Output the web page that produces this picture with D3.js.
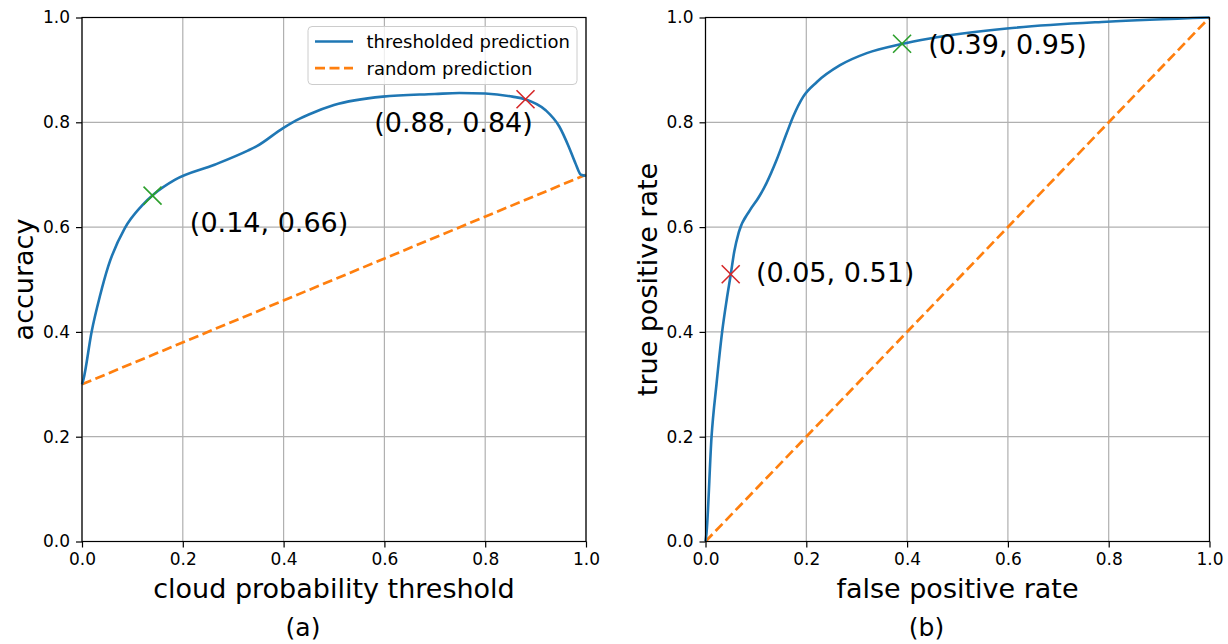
<!DOCTYPE html>
<html>
<head>
<meta charset="utf-8">
<script src="https://cdn.jsdelivr.net/npm/d3@7"></script>
<style>
  body { margin: 0; background: #fff; }
  svg { font-family: "DejaVu Sans", sans-serif; }
</style>
</head>
<body>
<svg id="chart" width="1228" height="644"></svg>
<script>
// panel (a): accuracy vs threshold
var threshold = [0, 0.003, 0.019, 0.036, 0.052, 0.085, 0.118, 0.143, 0.184, 0.263, 0.329, 0.346, 0.399, 0.432, 0.45, 0.50, 0.597, 0.70, 0.749, 0.80, 0.854, 0.879, 0.92, 0.947, 0.966, 0.979, 0.99, 1.0];
var accuracy  = [0.30, 0.31, 0.40, 0.47, 0.525, 0.598, 0.640, 0.663, 0.690, 0.719, 0.746, 0.754, 0.789, 0.807, 0.815, 0.833, 0.849, 0.854, 0.856, 0.855, 0.849, 0.844, 0.823, 0.792, 0.753, 0.722, 0.70, 0.698];
var randomAccX = [0, 1];
var randomAccY = [0.30, 0.70];

// panel (b): ROC
var fpr = [0, 0.002, 0.012, 0.022, 0.033, 0.042, 0.05, 0.057, 0.066, 0.088, 0.105, 0.121, 0.141, 0.161, 0.174, 0.194, 0.221, 0.267, 0.32, 0.387, 0.445, 0.598, 0.796, 1.0];
var tpr = [0, 0.016, 0.20, 0.302, 0.40, 0.461, 0.509, 0.553, 0.590, 0.632, 0.656, 0.684, 0.728, 0.779, 0.811, 0.849, 0.877, 0.909, 0.932, 0.949, 0.96, 0.979, 0.992, 1.0];
var randomRocX = [0, 1];
var randomRocY = [0, 1];

// marked points: [x, y, label, label x, label baseline y, colour]
var accMarks = [
  [0.14, 0.66, "(0.14, 0.66)", 0.214, 0.59, "#2ca02c"],
  [0.88, 0.844, "(0.88, 0.84)", 0.58, 0.782, "#d62728"]
];
var rocMarks = [
  [0.05, 0.51, "(0.05, 0.51)", 0.10, 0.496, "#d62728"],
  [0.39, 0.95, "(0.39, 0.95)", 0.442, 0.930, "#2ca02c"]
];

var ticks = [0, 0.2, 0.4, 0.6, 0.8, 1.0];
var legendKeys = ["thresholded prediction", "random prediction"];

var blue = "#1f77b4", orange = "#ff7f0e";
var svg = d3.select("#chart");

function panel(left, opts) {
  var top = 17.5, w = 504, h = 524;
  var x = d3.scaleLinear().domain([0, 1]).range([0, w]);
  var y = d3.scaleLinear().domain([0, 1]).range([h, 0]);
  var g = svg.append("g").attr("transform", "translate(" + left + "," + top + ")");

  // grid
  g.append("g").selectAll("line").data(ticks).enter().append("line")
    .attr("x1", d => x(d)).attr("x2", d => x(d)).attr("y1", 0).attr("y2", h)
    .attr("stroke", "#b0b0b0").attr("stroke-width", 1.2);
  g.append("g").selectAll("line").data(ticks).enter().append("line")
    .attr("y1", d => y(d)).attr("y2", d => y(d)).attr("x1", 0).attr("x2", w)
    .attr("stroke", "#b0b0b0").attr("stroke-width", 1.2);

  var line = d3.line().x(d => x(d[0])).y(d => y(d[1])).curve(d3.curveMonotoneX);

  g.append("path")
    .attr("d", line(d3.zip(opts.rx, opts.ry)))
    .attr("fill", "none").attr("stroke", orange).attr("stroke-width", 2.7)
    .attr("stroke-dasharray", "10,4.5");
  g.append("path")
    .attr("d", line(d3.zip(opts.xs, opts.ys)))
    .attr("fill", "none").attr("stroke", blue).attr("stroke-width", 2.6);

  // markers + labels
  opts.marks.forEach(function(m) {
    var cx = x(m[0]), cy = y(m[1]), s = 9;
    g.append("path")
      .attr("d", "M" + (cx - s) + "," + (cy - s) + "L" + (cx + s) + "," + (cy + s) +
                 "M" + (cx - s) + "," + (cy + s) + "L" + (cx + s) + "," + (cy - s))
      .attr("stroke", m[5]).attr("stroke-width", 1.6).attr("fill", "none");
    g.append("text").attr("x", x(m[3])).attr("y", y(m[4]))
      .attr("font-size", "27px").text(m[2]);
  });

  // axes
  var xa = g.append("g").attr("transform", "translate(0," + h + ")")
    .call(d3.axisBottom(x).tickValues(ticks).tickFormat(d3.format(".1f")).tickSize(6).tickPadding(5));
  var ya = g.append("g")
    .call(d3.axisLeft(y).tickValues(ticks).tickFormat(d3.format(".1f")).tickSize(6).tickPadding(6));
  [xa, ya].forEach(function(a) {
    a.select(".domain").remove();
    a.selectAll("text").attr("font-size", "17px").attr("fill", "#000").attr("font-family", "DejaVu Sans");
    a.selectAll("line").attr("stroke", "#000").attr("stroke-width", 1.2);
  });
  g.append("rect").attr("width", w).attr("height", h)
    .attr("fill", "none").attr("stroke", "#000").attr("stroke-width", 1.2);

  g.append("text").attr("x", w / 2).attr("y", 580.5)
    .attr("text-anchor", "middle").attr("font-size", "27px").text(opts.xlabel);
  g.append("text").attr("transform", "translate(" + opts.ylabelX + "," + (h / 2) + ") rotate(-90)")
    .attr("text-anchor", "middle").attr("font-size", "27px").text(opts.ylabel);
  g.append("text").attr("x", w / 2 - 31).attr("y", 618.5)
    .attr("text-anchor", "middle").attr("font-size", "25px").text(opts.caption);

  return {g: g, x: x, y: y};
}

var a = panel(82, {xs: threshold, ys: accuracy, rx: randomAccX, ry: randomAccY, marks: accMarks,
  xlabel: "cloud probability threshold", ylabel: "accuracy", caption: "(a)", ylabelX: -49});
panel(705.5, {xs: fpr, ys: tpr, rx: randomRocX, ry: randomRocY, marks: rocMarks,
  xlabel: "false positive rate", ylabel: "true positive rate", caption: "(b)", ylabelX: -49});

// legend in panel (a)
var lg = a.g.append("g").attr("transform", "translate(226,9)");
lg.append("rect").attr("width", 269).attr("height", 58).attr("rx", 4)
  .attr("fill", "#fff").attr("fill-opacity", 0.8).attr("stroke", "#cccccc").attr("stroke-width", 1);
var item = lg.selectAll(".item").data(legendKeys).enter().append("g")
  .attr("class", "item").attr("transform", (d, i) => "translate(0," + (15 + i * 26.6) + ")");
item.append("line").attr("x1", 7).attr("x2", 45).attr("y1", 0).attr("y2", 0)
  .attr("stroke", (d, i) => i === 0 ? blue : orange).attr("stroke-width", 2.6)
  .attr("stroke-dasharray", (d, i) => i === 0 ? null : "10,4.5");
item.append("text").attr("x", 58.5).attr("y", 6.5).attr("font-size", "18px").text(d => d);
</script>
</body>
</html>
